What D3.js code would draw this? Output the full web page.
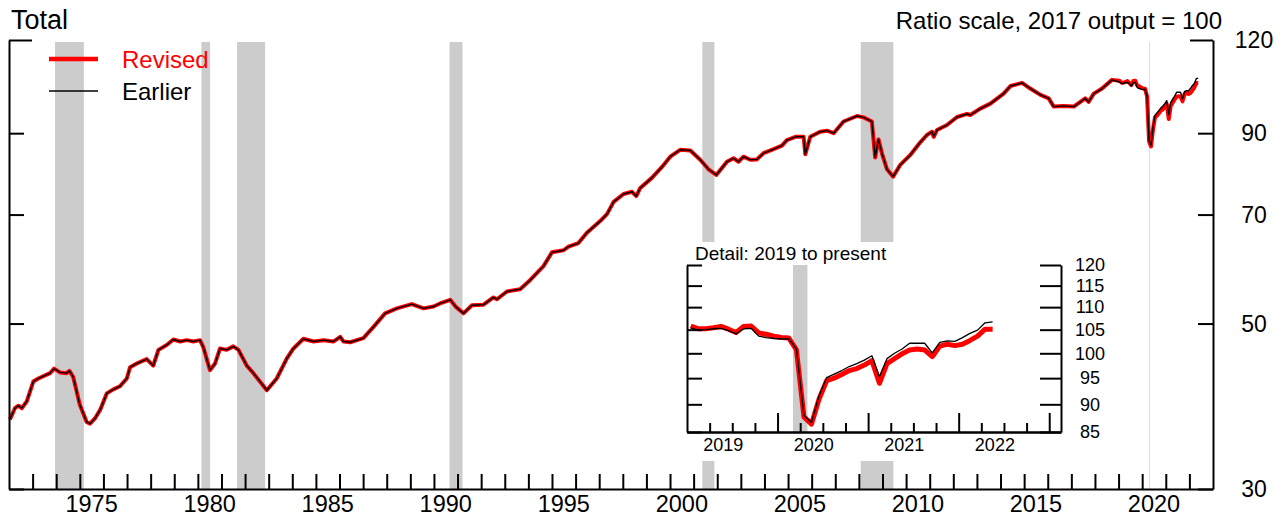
<!DOCTYPE html>
<html>
<head>
<meta charset="utf-8">
<script src="https://cdn.jsdelivr.net/npm/d3@7"></script>
<style>
  body { margin: 0; background: #fff; }
  svg { display: block; font-family: "Liberation Sans", Arial, Helvetica, sans-serif; }
</style>
</head>
<body>
<svg id="chart"></svg>
<script>
// History up to end of 2018 (decimal year, index 2017 = 100), same for both vintages
const histYears = [
  1972.04, 1972.25, 1972.40, 1972.54, 1972.75, 1973.03, 1973.24, 1973.74, 1973.91, 1974.16,
  1974.44, 1974.56, 1974.72, 1975.00, 1975.29, 1975.43, 1975.64, 1975.86, 1976.14, 1976.42,
  1976.70, 1976.99, 1977.13, 1977.41, 1977.83, 1978.11, 1978.33, 1978.68, 1978.96, 1979.25,
  1979.53, 1979.81, 1980.09, 1980.23, 1980.51, 1980.73, 1980.94, 1981.22, 1981.50, 1981.72,
  1982.07, 1982.35, 1982.92, 1983.34, 1983.77, 1984.05, 1984.47, 1984.90, 1985.32, 1985.74,
  1986.03, 1986.17, 1986.45, 1987.01, 1987.44, 1987.93, 1988.43, 1989.06, 1989.56, 1989.98,
  1990.26, 1990.69, 1990.94, 1991.25, 1991.61, 1992.10, 1992.52, 1992.67, 1993.09, 1993.65,
  1994.08, 1994.64, 1995.00, 1995.49, 1995.70, 1996.12, 1996.48, 1997.04, 1997.33, 1997.61,
  1998.03, 1998.39, 1998.57, 1998.74, 1999.23, 1999.66, 2000.01, 2000.43, 2000.86, 2001.28,
  2001.63, 2001.96, 2002.41, 2002.69, 2002.90, 2003.11, 2003.40, 2003.68, 2003.96, 2004.39,
  2004.74, 2004.95, 2005.31, 2005.66, 2005.73, 2005.94, 2006.36, 2006.65, 2006.93, 2007.35,
  2007.92, 2008.20, 2008.55, 2008.69, 2008.83, 2008.98, 2009.19, 2009.45, 2009.75, 2010.17,
  2010.60, 2010.88, 2011.10, 2011.17, 2011.31, 2011.73, 2012.16, 2012.58, 2012.72, 2013.14,
  2013.57, 2014.13, 2014.42, 2014.91, 2015.26, 2015.69, 2016.04, 2016.25, 2016.67, 2017.10,
  2017.38, 2017.59, 2017.73, 2017.95, 2018.30, 2018.72
];
const histValues = [
  37.2, 38.5, 38.8, 38.5, 39.3, 41.8, 42.2, 42.9, 43.5, 43.0,
  42.9, 43.2, 42.4, 38.9, 36.9, 36.7, 37.3, 38.3, 40.3, 40.8,
  41.2, 42.2, 43.7, 44.2, 44.8, 43.9, 46.1, 46.8, 47.6, 47.3,
  47.5, 47.3, 47.5, 46.5, 43.3, 44.2, 46.3, 46.1, 46.6, 46.1,
  43.9, 42.9, 40.7, 42.2, 44.9, 46.3, 47.7, 47.3, 47.5, 47.3,
  48.0, 47.3, 47.2, 47.8, 49.5, 51.6, 52.4, 53.1, 52.4, 52.7,
  53.2, 53.8, 52.6, 51.6, 52.9, 53.0, 54.2, 53.9, 55.2, 55.6,
  57.2, 59.7, 62.3, 62.7, 63.4, 64.1, 66.2, 68.6, 70.1, 72.8,
  74.6, 75.1, 74.1, 76.0, 78.4, 81.1, 83.7, 85.5, 85.3, 82.9,
  80.5, 79.1, 82.4, 83.3, 82.4, 83.7, 82.9, 83.0, 84.6, 85.7,
  86.6, 88.1, 89.0, 89.0, 84.3, 89.0, 90.4, 90.7, 90.0, 93.3,
  94.9, 94.5, 93.3, 83.5, 88.3, 84.5, 80.5, 78.7, 81.6, 84.1,
  87.5, 89.5, 90.4, 89.0, 90.9, 92.3, 94.6, 95.5, 95.2, 97.1,
  98.6, 101.7, 104.1, 105.1, 103.3, 101.3, 100.2, 97.7, 97.9, 97.7,
  99.1, 100.2, 99.1, 101.7, 103.3, 106.1
];

// Monthly detail, Jan 2019 to May 2022
const detailStartYear = 2019;
const revisedDetail = [
  105.8, 105.2, 105.2, 105.4, 105.7, 105.1, 104.4, 105.7, 105.8, 104.3, 104.0, 103.6,
  103.3, 103.2, 100.7, 87.7, 86.4, 91.0, 94.5, 95.0, 95.7, 96.5, 96.9, 97.6,
  98.5, 94.0, 97.9, 98.9, 99.9, 100.7, 100.9, 100.7, 99.3, 101.5, 101.9, 101.6,
  101.9, 102.7, 103.6, 105.1, 105.1
];
const earlierDetail = [
  105.4, 104.9, 105.0, 105.2, 105.3, 104.8, 104.1, 105.2, 105.3, 103.6, 103.3, 103.1,
  103.0, 103.0, 100.9, 88.0, 86.7, 91.6, 95.1, 95.8, 96.5, 97.3, 97.9, 98.6,
  99.5, 95.3, 98.9, 100.0, 100.9, 102.1, 102.1, 102.1, 100.1, 102.3, 102.6, 102.5,
  103.3, 104.2, 104.9, 106.5, 106.7
];

// Recession periods (decimal years)
const recessions = [
  [1973.95, 1975.17], [1980.15, 1980.52], [1981.66, 1982.85], [1990.66, 1991.21],
  [2001.37, 2001.88], [2008.08, 2009.46]
];
const covidRecession = [2020.17, 2020.33];

const mainTicks = [30, 50, 70, 90, 120];
const mainYearLabels = [1975, 1980, 1985, 1990, 1995, 2000, 2005, 2010, 2015, 2020];
const insetTicks = [85, 90, 95, 100, 105, 110, 115, 120];
const insetYearLabels = [2019, 2020, 2021, 2022];

// Build point lists
const detailYears = revisedDetail.map((d, i) => detailStartYear + (i + 0.5) / 12);
const histPoints = histYears.map((t, i) => ({ t: t, v: histValues[i] }));
const revisedRecent = detailYears.map((t, i) => ({ t: t, v: revisedDetail[i] }));
const earlierRecent = detailYears.map((t, i) => ({ t: t, v: earlierDetail[i] }));

const width = 1286;
const height = 521;
const plot = { left: 9, right: 1213, top: 40, bottom: 489 };

const svg = d3.select("#chart")
  .attr("width", width)
  .attr("height", height);

// Scales
const x = d3.scaleLinear().domain([1972, 2023]).range([plot.left, plot.right]);
const y = d3.scaleLog().domain([30, 120]).range([plot.bottom, plot.top]);

// Recession shading
svg.selectAll(".shade")
  .data(recessions)
  .enter()
  .append("rect")
  .attr("class", "shade")
  .attr("x", d => x(d[0]))
  .attr("y", plot.top + 2)
  .attr("width", d => x(d[1]) - x(d[0]))
  .attr("height", plot.bottom - plot.top - 2)
  .attr("fill", "#cccccc");

svg.append("rect")
  .attr("x", x(covidRecession[1]) - 1)
  .attr("y", plot.top + 2)
  .attr("width", 1)
  .attr("height", plot.bottom - plot.top - 2)
  .attr("fill", "#dddddd");

// Lines
const line = d3.line().x(d => x(d.t)).y(d => y(d.v));

svg.append("path")
  .datum(histPoints.concat(revisedRecent))
  .attr("d", line)
  .attr("fill", "none")
  .attr("stroke", "#ff0000")
  .attr("stroke-width", 4)
  .attr("stroke-linejoin", "round");

svg.append("path")
  .datum(histPoints.concat(earlierRecent))
  .attr("d", line)
  .attr("fill", "none")
  .attr("stroke", "#000")
  .attr("stroke-width", 1.4)
  .attr("stroke-linejoin", "round");

// Axes
function styleAxis(g) {
  g.selectAll("path, line").attr("stroke", "#000").attr("stroke-width", 2);
  g.selectAll("text").remove();
}

const leftAxis = svg.append("g")
  .attr("transform", `translate(${plot.left},0)`)
  .call(d3.axisRight(y).tickValues(mainTicks).tickSize(15).tickSizeOuter(0))
  .call(styleAxis);
leftAxis.selectAll(".tick").filter(d => d === 120).select("line").attr("x2", 23);

const rightAxis = svg.append("g")
  .attr("transform", `translate(${plot.right},0)`)
  .call(d3.axisLeft(y).tickValues(mainTicks).tickSize(15).tickSizeOuter(0))
  .call(styleAxis);
rightAxis.selectAll(".tick").filter(d => d === 120).select("line").attr("x2", -23);

svg.append("g")
  .attr("transform", `translate(0,${plot.bottom})`)
  .call(d3.axisTop(x).tickValues(d3.range(1973, 2023)).tickSize(15).tickSizeOuter(0))
  .call(styleAxis);

// Right axis labels
svg.selectAll(".ylabel")
  .data(mainTicks)
  .enter()
  .append("text")
  .attr("class", "ylabel")
  .attr("x", 1254)
  .attr("y", d => y(d))
  .attr("dy", "0.35em")
  .attr("text-anchor", "middle")
  .style("font-size", "23px")
  .text(d => d);

// Year labels at mid-year
svg.selectAll(".xlabel")
  .data(mainYearLabels)
  .enter()
  .append("text")
  .attr("class", "xlabel")
  .attr("x", d => x(d + 0.5))
  .attr("y", 512)
  .attr("text-anchor", "middle")
  .style("font-size", "23.5px")
  .text(d => d);

// Titles
svg.append("text")
  .attr("x", 11)
  .attr("y", 29)
  .style("font-size", "27px")
  .text("Total");

svg.append("text")
  .attr("x", 1222)
  .attr("y", 29)
  .attr("text-anchor", "end")
  .style("font-size", "24px")
  .text("Ratio scale, 2017 output = 100");

// Legend
const legend = svg.append("g");
legend.append("line")
  .attr("x1", 49).attr("x2", 98).attr("y1", 59).attr("y2", 59)
  .attr("stroke", "#ff0000").attr("stroke-width", 4.5);
legend.append("text")
  .attr("x", 122).attr("y", 68)
  .attr("fill", "#ff0000")
  .style("font-size", "24px")
  .text("Revised");
legend.append("line")
  .attr("x1", 49).attr("x2", 98).attr("y1", 91).attr("y2", 91)
  .attr("stroke", "#000").attr("stroke-width", 1.4);
legend.append("text")
  .attr("x", 122).attr("y", 100)
  .style("font-size", "24px")
  .text("Earlier");

// ---- Inset: detail from 2019 ----
const inset = { left: 687, right: 1061, top: 265, bottom: 432 };
const ix = d3.scaleLinear().domain([2019, 2023.13]).range([inset.left, inset.right]);
const iy = d3.scaleLog().domain([85, 120]).range([inset.bottom, inset.top]);

svg.append("rect")
  .attr("x", 680)
  .attr("y", 242)
  .attr("width", 432)
  .attr("height", 219)
  .attr("fill", "#fff");

svg.append("rect")
  .attr("x", ix(covidRecession[0]))
  .attr("y", inset.top)
  .attr("width", ix(covidRecession[1]) - ix(covidRecession[0]))
  .attr("height", inset.bottom - inset.top)
  .attr("fill", "#cccccc");

const iline = d3.line().x(d => ix(d.t)).y(d => iy(d.v));

svg.append("path")
  .datum(revisedRecent)
  .attr("d", iline)
  .attr("fill", "none")
  .attr("stroke", "#ff0000")
  .attr("stroke-width", 5)
  .attr("stroke-linejoin", "round");

svg.append("path")
  .datum(earlierRecent)
  .attr("d", iline)
  .attr("fill", "none")
  .attr("stroke", "#000")
  .attr("stroke-width", 1.3)
  .attr("stroke-linejoin", "round");

svg.append("g")
  .attr("transform", `translate(${inset.left},0)`)
  .call(d3.axisRight(iy).tickValues(insetTicks).tickSize(15).tickSizeOuter(0))
  .call(styleAxis);

svg.append("g")
  .attr("transform", `translate(${inset.right},0)`)
  .call(d3.axisLeft(iy).tickValues(insetTicks).tickSize(21).tickSizeOuter(0))
  .call(styleAxis);

// quarter ticks (short) and year ticks (long)
const quarterTicks = d3.range(1, 17).map(q => 2019 + q / 4).filter(t => t % 1 !== 0);
svg.append("g")
  .attr("transform", `translate(0,${inset.bottom})`)
  .call(d3.axisTop(ix).tickValues(quarterTicks).tickSize(9).tickSizeOuter(0))
  .call(styleAxis);
svg.append("g")
  .attr("transform", `translate(0,${inset.bottom})`)
  .call(d3.axisTop(ix).tickValues([2020, 2021, 2022, 2023]).tickSize(19).tickSizeOuter(0))
  .call(styleAxis);

svg.selectAll(".iylabel")
  .data(insetTicks)
  .enter()
  .append("text")
  .attr("class", "iylabel")
  .attr("x", 1090)
  .attr("y", d => iy(d))
  .attr("dy", "0.35em")
  .attr("text-anchor", "middle")
  .style("font-size", "18px")
  .text(d => d);

svg.selectAll(".ixlabel")
  .data(insetYearLabels)
  .enter()
  .append("text")
  .attr("class", "ixlabel")
  .attr("x", d => ix(d + 0.4))
  .attr("y", 451)
  .attr("text-anchor", "middle")
  .style("font-size", "18px")
  .text(d => d);

svg.append("text")
  .attr("x", 695)
  .attr("y", 260)
  .style("font-size", "19px")
  .text("Detail: 2019 to present");
</script>
</body>
</html>
